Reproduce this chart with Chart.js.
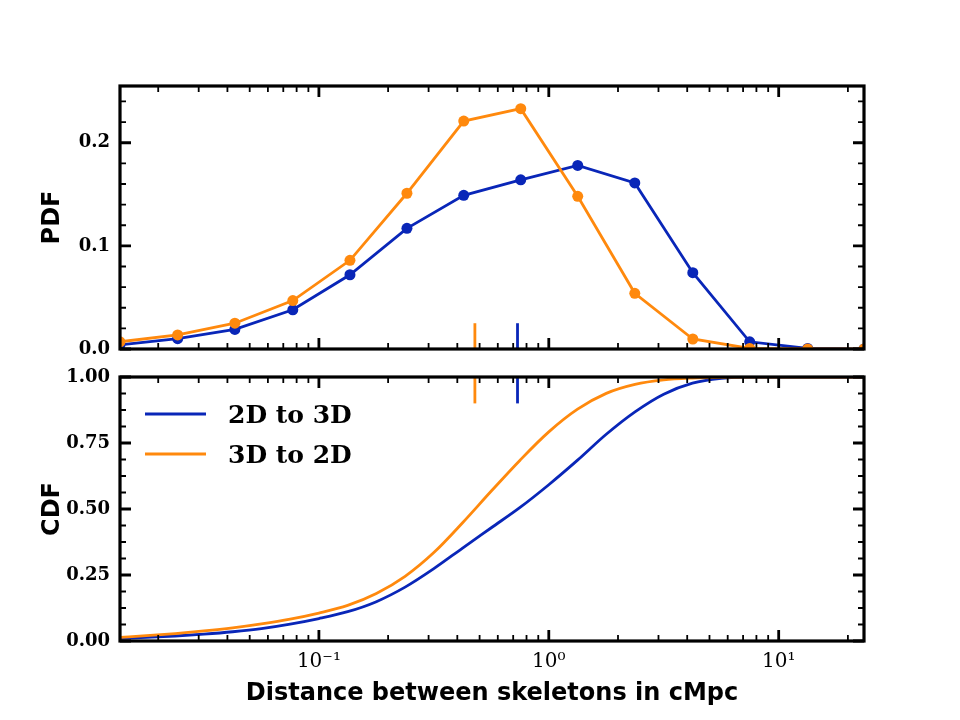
<!DOCTYPE html>
<html><head><meta charset="utf-8">
<script src="https://cdn.jsdelivr.net/npm/chart.js@4"></script>
<style>
html,body{margin:0;padding:0;background:#fff;}
#wrap{position:relative;width:960px;height:720px;background:#fff;}
canvas{position:absolute;left:0;top:0;}
</style></head><body>
<div id="wrap"><canvas id="pdf" width="960" height="720"></canvas><canvas id="cdf" width="960" height="720"></canvas></div>
<script>
// ---- data ----
const seriesNames = ['2D to 3D', '3D to 2D'];
const pdfX = [0.01364, 0.0243, 0.0431, 0.077, 0.1365, 0.2415, 0.4266, 0.755, 1.336, 2.366, 4.23, 7.48, 13.37, 23.5];
const pdf2Dto3D = [0.004, 0.010, 0.019, 0.038, 0.072, 0.117, 0.149, 0.164, 0.178, 0.161, 0.074, 0.007, 0.0005, 0.0];
const pdf3Dto2D = [0.007, 0.0136, 0.025, 0.047, 0.086, 0.151, 0.221, 0.233, 0.148, 0.054, 0.0097, 0.0005, 0.0, 0.0];
const cdfX = [0.01364, 0.01778, 0.02371, 0.03162, 0.04217, 0.05623, 0.07499, 0.1, 0.1334, 0.1778, 0.2371, 0.3162, 0.4217, 0.5623, 0.7499, 1.0, 1.334, 1.778, 2.371, 3.162, 4.217, 5.623, 7.499, 10, 23.5];
const cdf2Dto3D = [0.010, 0.014, 0.019, 0.026, 0.035, 0.047, 0.064, 0.085, 0.111, 0.149, 0.204, 0.274, 0.352, 0.429, 0.506, 0.592, 0.685, 0.783, 0.868, 0.935, 0.977, 0.995, 1.0, 1.0, 1.0];
const cdf3Dto2D = [0.014, 0.020, 0.028, 0.038, 0.050, 0.065, 0.083, 0.106, 0.135, 0.180, 0.245, 0.335, 0.448, 0.568, 0.685, 0.792, 0.878, 0.938, 0.972, 0.989, 0.996, 0.999, 1.0, 1.0, 1.0];
const medians = [0.731, 0.477];
const pdfMarkY = [0, 0.025];
const cdfMarkY = [0.9, 1.0];
const xMin = 0.01364, xMax = 23.5;
const xTickValues = [0.1, 1, 10];
const xTickLabels = ['10\u207B\u00B9', '10\u2070', '10\u00B9'];
const xMinorTicks = [0.02,0.03,0.04,0.05,0.06,0.07,0.08,0.09,0.2,0.3,0.4,0.5,0.6,0.7,0.8,0.9,2,3,4,5,6,7,8,9,20];
const pdfYTicks = [0, 0.1, 0.2];
const pdfYMinor = [0.02,0.04,0.06,0.08,0.12,0.14,0.16,0.18,0.22,0.24];
const pdfYMax = 0.255;
const cdfYTicks = [0, 0.25, 0.5, 0.75, 1.0];
const cdfYMinor = [0.0625,0.125,0.1875,0.3125,0.375,0.4375,0.5625,0.625,0.6875,0.8125,0.875,0.9375];

// ---- styles ----
const BLUE = '#0926b8';
const ORANGE = '#ff890d';
const colors = [BLUE, ORANGE];
const LW = 2.8;

const frameTicks = {
  id: 'frameTicks',
  afterDatasetsDraw(chart, args, o) {
    const {ctx, chartArea: a, scales: {x, y}} = chart;
    ctx.save();
    ctx.strokeStyle = '#000';
    ctx.lineCap = 'butt';
    const drawX = (vals, len, w) => {
      ctx.lineWidth = w; ctx.beginPath();
      vals.forEach(v => {
        if (v < x.min || v > x.max) return;
        const p = x.getPixelForValue(v);
        ctx.moveTo(p, a.bottom); ctx.lineTo(p, a.bottom - len);
        ctx.moveTo(p, a.top); ctx.lineTo(p, a.top + len);
      });
      ctx.stroke();
    };
    const drawY = (vals, len, w) => {
      ctx.lineWidth = w; ctx.beginPath();
      vals.forEach(v => {
        if (v < y.min || v > y.max) return;
        const p = y.getPixelForValue(v);
        ctx.moveTo(a.left, p); ctx.lineTo(a.left + len, p);
        ctx.moveTo(a.right, p); ctx.lineTo(a.right - len, p);
      });
      ctx.stroke();
    };
    drawX(o.xMinor, 6, 1.8);
    drawX(o.xMajor, 11, 2.8);
    drawY(o.yMinor, 6, 1.8);
    drawY(o.yMajor, 11, 2.8);
    ctx.lineWidth = 3.2;
    ctx.strokeRect(a.left, a.top, a.right - a.left, a.bottom - a.top);
    ctx.restore();
  }
};

const innerLegend = {
  id: 'innerLegend',
  afterDraw(chart, args, o) {
    if (!o.show) return;
    const {ctx, chartArea: a} = chart;
    const items = chart.data.datasets.filter(d => d.inLegend);
    ctx.save();
    ctx.font = 'bold 25px "DejaVu Serif"';
    ctx.textBaseline = 'middle';
    ctx.fillStyle = '#000';
    items.forEach((d, i) => {
      const yy = a.top + 37 + i * 40;
      ctx.strokeStyle = d.borderColor;
      ctx.lineWidth = LW;
      ctx.beginPath(); ctx.moveTo(a.left + 25, yy); ctx.lineTo(a.left + 86, yy); ctx.stroke();
      ctx.fillText(d.label, a.left + 108, yy + 2);
    });
    ctx.restore();
  }
};

const yTickFont = {family: 'DejaVu Serif', weight: 'bold', size: 18};
const titleFont = {family: 'DejaVu Sans', weight: 'bold', size: 24};

function pts(xs, ys) { return xs.map((v, i) => ({x: v, y: ys[i]})); }

function markerSets(markY) {
  return medians.map((m, i) => ({
    label: 'median ' + seriesNames[i],
    data: [{x: m, y: markY[0]}, {x: m, y: markY[1]}],
    borderColor: colors[i], borderWidth: LW, pointRadius: 0, fill: false, order: 2
  }));
}

// ---- PDF chart ----
new Chart(document.getElementById('pdf'), {
  type: 'line',
  data: {
    datasets: [
      {label: seriesNames[0], data: pts(pdfX, pdf2Dto3D), borderColor: BLUE, backgroundColor: BLUE,
       borderWidth: LW, pointRadius: 5.5, pointBorderWidth: 0, pointBackgroundColor: BLUE, tension: 0, order: 1},
      {label: seriesNames[1], data: pts(pdfX, pdf3Dto2D), borderColor: ORANGE, backgroundColor: ORANGE,
       borderWidth: LW, pointRadius: 5.5, pointBorderWidth: 0, pointBackgroundColor: ORANGE, tension: 0, order: 0},
      ...markerSets(pdfMarkY)
    ]
  },
  options: {
    responsive: false, animation: false, events: [],
    layout: {padding: {left: 0, top: 86, right: 96, bottom: 371}},
    plugins: {
      legend: {display: false}, tooltip: {enabled: false},
      frameTicks: {xMajor: xTickValues, xMinor: xMinorTicks, yMajor: pdfYTicks, yMinor: pdfYMinor},
      innerLegend: {show: false}
    },
    scales: {
      x: {type: 'logarithmic', min: xMin, max: xMax, display: false},
      y: {
        type: 'linear', min: 0, max: pdfYMax,
        grid: {display: false, drawTicks: false}, border: {display: false},
        afterBuildTicks: s => { s.ticks = pdfYTicks.map(v => ({value: v})); },
        afterFit: s => { s.width = 120; },
        ticks: {callback: v => Number(v).toFixed(1), font: yTickFont, color: '#000', padding: 10},
        title: {display: true, text: 'PDF', font: titleFont, color: '#000', padding: {top: 38, bottom: 0}}
      }
    }
  },
  plugins: [frameTicks, innerLegend]
});

// ---- CDF chart ----
new Chart(document.getElementById('cdf'), {
  type: 'line',
  data: {
    datasets: [
      {label: seriesNames[0], inLegend: true, data: pts(cdfX, cdf2Dto3D), borderColor: BLUE,
       borderWidth: LW, pointRadius: 0, cubicInterpolationMode: 'monotone', order: 1},
      {label: seriesNames[1], inLegend: true, data: pts(cdfX, cdf3Dto2D), borderColor: ORANGE,
       borderWidth: LW, pointRadius: 0, cubicInterpolationMode: 'monotone', order: 0},
      ...markerSets(cdfMarkY)
    ]
  },
  options: {
    responsive: false, animation: false, events: [],
    layout: {padding: {left: 0, top: 377, right: 96, bottom: 0}},
    plugins: {
      legend: {display: false}, tooltip: {enabled: false},
      frameTicks: {xMajor: xTickValues, xMinor: xMinorTicks, yMajor: cdfYTicks, yMinor: cdfYMinor},
      innerLegend: {show: true}
    },
    scales: {
      x: {
        type: 'logarithmic', min: xMin, max: xMax,
        grid: {display: false, drawTicks: false}, border: {display: false},
        afterBuildTicks: s => { s.ticks = xTickValues.map(v => ({value: v})); },
        afterFit: s => { s.height = 79; },
        ticks: {
          autoSkip: false, maxRotation: 0, minRotation: 0, padding: 9, color: '#000',
          font: {family: 'DejaVu Serif', size: 20},
          callback: v => {
            const i = xTickValues.findIndex(t => Math.abs(Math.log10(t) - Math.log10(v)) < 1e-6);
            return i >= 0 ? xTickLabels[i] : '';
          }
        },
        title: {display: true, text: 'Distance between skeletons in cMpc', font: titleFont, color: '#000', padding: {top: 0, bottom: 12}}
      },
      y: {
        type: 'linear', min: 0, max: 1,
        grid: {display: false, drawTicks: false}, border: {display: false},
        afterBuildTicks: s => { s.ticks = cdfYTicks.map(v => ({value: v})); },
        afterFit: s => { s.width = 120; },
        ticks: {callback: v => Number(v).toFixed(2), font: yTickFont, color: '#000', padding: 10},
        title: {display: true, text: 'CDF', font: titleFont, color: '#000', padding: {top: 38, bottom: 0}}
      }
    }
  },
  plugins: [frameTicks, innerLegend]
});
</script>
</body></html>
